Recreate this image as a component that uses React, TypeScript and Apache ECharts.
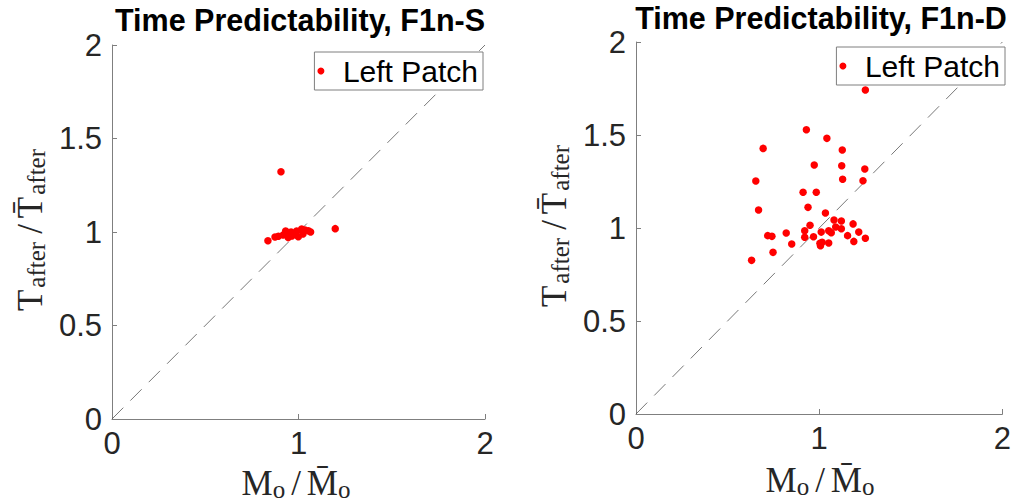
import React, { useEffect, useRef } from "react";
import * as echarts from "echarts";

const FONT = '"Liberation Sans", Arial, Helvetica, sans-serif';
const SERIF = '"Liberation Serif", "Times New Roman", serif';

const titles = ["Time Predictability, F1n-S", "Time Predictability, F1n-D"];
const legendName = "Left Patch";
const xTicks = [0, 1, 2];
const yTicks = [0, 0.5, 1, 1.5, 2];
const refLine: number[][] = [[0, 0], [2, 2]];

// Left panel (F1n-S): [Mo/Mo_bar, Tafter/Tafter_bar]
const pointsS: number[][] = [
  [0.906, 1.322], [1.197, 1.018], [0.836, 0.953],
  [0.874, 0.973], [0.892, 0.977], [0.918, 0.984], [0.931, 1.005],
  [0.937, 0.993], [0.945, 0.970], [0.960, 1.0], [0.965, 0.979],
  [0.981, 0.993], [0.990, 1.005], [0.999, 0.975], [1.017, 1.016],
  [1.024, 0.989], [1.035, 1.011], [1.053, 1.007], [1.065, 1.0],
];

// Right panel (F1n-D)
const pointsD: number[][] = [
  [1.252, 1.742], [0.930, 1.528], [1.042, 1.482], [0.694, 1.428],
  [1.126, 1.419], [0.973, 1.339], [1.123, 1.335], [1.249, 1.317],
  [1.128, 1.262], [1.239, 1.254], [0.654, 1.253], [0.912, 1.192],
  [0.984, 1.192], [0.939, 1.111], [0.669, 1.097], [1.034, 1.081],
  [1.081, 1.043], [1.121, 1.038], [0.950, 1.015], [1.185, 1.022],
  [1.090, 1.005], [1.121, 0.996], [0.921, 0.985], [1.052, 0.985],
  [1.066, 0.975], [1.011, 0.978], [1.216, 0.978], [0.820, 0.973],
  [0.719, 0.959], [0.742, 0.955], [0.921, 0.950], [0.969, 0.953],
  [1.155, 0.959], [1.252, 0.945], [1.189, 0.928], [1.016, 0.923],
  [1.052, 0.919], [1.004, 0.918], [1.007, 0.905], [0.850, 0.914],
  [0.748, 0.869], [0.631, 0.826],
];

// Math-style axis label pieces: [text, role] (role: main / sub / slash)
type Piece = [string, "m" | "s" | "sl"];
const xLabelPieces: Piece[] = [["M", "m"], ["o", "s"], ["/", "sl"], ["M\u0304", "m"], ["o", "s"]];
const yLabelPieces: Piece[] = [["T", "m"], ["after", "s"], ["/", "sl"], ["T\u0304", "m"], ["after", "s"]];

const MAIN_SIZE = 35;
const SUB_SIZE = 25;
const SUB_DROP = 3;
const CENTRAL = 0.3375; // central-baseline offset (em) for the serif font

let measureCtx: CanvasRenderingContext2D | null = null;
function textWidth(t: string, size: number) {
  if (!measureCtx) measureCtx = document.createElement("canvas").getContext("2d");
  measureCtx!.font = `${size}px ${SERIF}`;
  return measureCtx!.measureText(t).width;
}

function mathLabel(pieces: Piece[], x: number, y: number, rotation: number, gaps: { m: number; s: number; pad: number }) {
  const items: any[] = [];
  const widths = pieces.map(([t, r]) => {
    const size = r === "s" ? SUB_SIZE : MAIN_SIZE;
    const w = textWidth(t, size);
    if (r === "sl") return w + 2 * gaps.pad;
    return w + (r === "m" ? gaps.m : gaps.s);
  });
  const lastExtra = pieces[pieces.length - 1][1] === "s" ? gaps.s : gaps.m;
  const total = widths.reduce((a, b) => a + b, 0) - lastExtra;
  let cx = -total / 2;
  pieces.forEach(([t, r], i) => {
    const size = r === "s" ? SUB_SIZE : MAIN_SIZE;
    const base = r === "s" ? SUB_DROP : 0;
    items.push({
      type: "text",
      x: cx + (r === "sl" ? gaps.pad : 0),
      y: base - CENTRAL * size,
      style: { text: t, fontSize: size, fontFamily: SERIF, fill: "#262626", align: "left", verticalAlign: "middle" },
    });
    cx += widths[i];
  });
  return { type: "group", x, y, rotation, children: items };
}

export default function App() {
  const ref = useRef<HTMLDivElement>(null);
  useEffect(() => {
    if (!ref.current) return;
    const chart = echarts.init(ref.current, null, { renderer: "svg" });
    const axisLine = { show: true, lineStyle: { color: "#7f7f7f", width: 1 } };
    const axisTick = { show: true, inside: true, length: 5, lineStyle: { color: "#7f7f7f", width: 1 } };
    const grids = [
      { left: 112, top: 45, width: 373, height: 374 },
      { left: 636, top: 42, width: 370, height: 372 },
    ];
    const xGaps = { m: 0, s: 0, pad: 6 };
    const yGaps = { m: 2, s: 2, pad: 6 };
    const option: any = {
      animation: false,
      backgroundColor: "#ffffff",
      title: [
        { text: titles[0], left: 300, top: 4, padding: 0, textAlign: "center",
          textStyle: { fontSize: 30.5, fontWeight: "bold", color: "#000", fontFamily: FONT } },
        { text: titles[1], left: 821, top: 2, padding: 0, textAlign: "center",
          textStyle: { fontSize: 30.5, fontWeight: "bold", color: "#000", fontFamily: FONT } },
      ],
      grid: grids,
      xAxis: [0, 1].map((i) => ({
        gridIndex: i, type: "value", min: xTicks[0], max: xTicks[xTicks.length - 1], interval: 1,
        axisLine, axisTick, splitLine: { show: false },
        axisLabel: { fontSize: 31, color: "#262626", fontFamily: FONT, margin: 9 },
      })),
      yAxis: [0, 1].map((i) => ({
        gridIndex: i, type: "value", min: yTicks[0], max: yTicks[yTicks.length - 1], interval: 0.5,
        axisLine, axisTick, splitLine: { show: false },
        axisLabel: { fontSize: 31, color: "#262626", fontFamily: FONT, margin: 10 },
      })),
      legend: [
        { data: [legendName], right: 1014 - 483, top: 52 },
        { data: [legendName], right: 1014 - 1005, top: 47 },
      ].map((l) => ({
        ...l, orient: "vertical", selectedMode: false, icon: "circle",
        itemWidth: 34, itemHeight: 7, itemGap: 0, padding: [4, 5, 4, 3],
        backgroundColor: "#ffffff", borderColor: "#7f7f7f", borderWidth: 1, borderRadius: 0,
        textStyle: { fontSize: 30, color: "#000", fontFamily: FONT },
      })),
      series: [
        { type: "line", name: "ref0", xAxisIndex: 0, yAxisIndex: 0, data: refLine, symbol: "none", silent: true, z: 1,
          lineStyle: { color: "#555", width: 0.8, type: [16, 10] } },
        { type: "line", name: "ref1", xAxisIndex: 1, yAxisIndex: 1, data: refLine, symbol: "none", silent: true, z: 1,
          lineStyle: { color: "#555", width: 0.8, type: [16, 10] } },
        { type: "scatter", name: legendName, xAxisIndex: 0, yAxisIndex: 0, data: pointsS, symbolSize: 7.5,
          itemStyle: { color: "#ff0000", opacity: 1 }, z: 3 },
        { type: "scatter", name: legendName, xAxisIndex: 1, yAxisIndex: 1, data: pointsD, symbolSize: 7.5,
          itemStyle: { color: "#ff0000", opacity: 1 }, z: 3 },
      ],
      graphic: [
        mathLabel(xLabelPieces, 296, 495, 0, xGaps),
        mathLabel(xLabelPieces, 820, 492, 0, xGaps),
        mathLabel(yLabelPieces, 42, 230, Math.PI / 2, yGaps),
        mathLabel(yLabelPieces, 566, 226, Math.PI / 2, yGaps),
      ],
    };
    chart.setOption(option);
    return () => chart.dispose();
  }, []);
  return (
    <div
      ref={ref}
      style={{ position: "fixed", left: 0, top: 0, width: 1014, height: 504, background: "#fff" }}
    />
  );
}
